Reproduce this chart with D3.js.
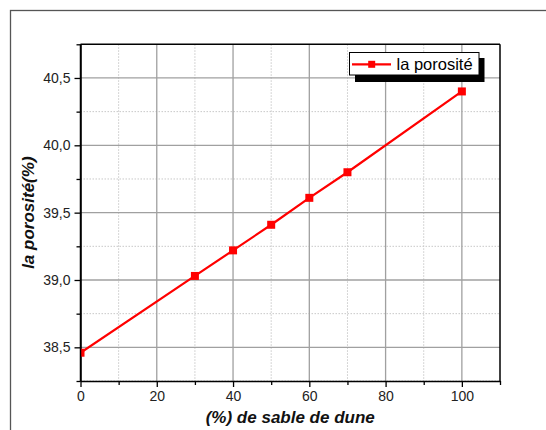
<!DOCTYPE html>
<html>
<head>
<meta charset="utf-8">
<script src="https://cdn.jsdelivr.net/npm/d3@7"></script>
<style>
  html, body { margin: 0; padding: 0; background: #fff; }
  svg { display: block; }
</style>
</head>
<body>
<svg id="chart" width="546" height="430"></svg>
<script>
// Porosity versus dune sand content
const sandPercent = [0, 30, 40, 50, 60, 70, 100];
const porosity = [38.46, 39.03, 39.22, 39.41, 39.61, 39.80, 40.40];
const xMajorTicks = [0, 20, 40, 60, 80, 100];
const xMinorTicks = [10, 30, 50, 70, 90, 110];
const yMajorTicks = [38.5, 39.0, 39.5, 40.0, 40.5];
const yMinorTicks = [38.25, 38.75, 39.25, 39.75, 40.25, 40.75];
const seriesName = "la porosité";
const xTitle = "(%) de sable de dune";
const yTitle = "la porosité(%)";

const svg = d3.select("#chart");
const pLeft = 80.5, pRight = 500, pTop = 44.3, pBottom = 381;
const x = d3.scaleLinear().domain([0, 110]).range([pLeft, pRight]);
const y = d3.scaleLinear().domain([38.25, 40.75]).range([pBottom, pTop]);
const fmt = d3.format(".1f");
const comma = v => fmt(v).replace(".", ",");

// outer page frame
svg.append("rect")
  .attr("x", 10.5).attr("y", 10.5).attr("width", 700).attr("height", 600)
  .attr("fill", "none").attr("stroke", "#555").attr("stroke-width", 1.3);

// minor grid (dotted)
const grid = svg.append("g");
grid.selectAll(".vx").data(xMinorTicks.filter(d => d < 110)).join("line")
  .attr("x1", d => x(d)).attr("x2", d => x(d)).attr("y1", pTop).attr("y2", pBottom)
  .attr("stroke", "#c8c8c8").attr("stroke-width", 1).attr("stroke-dasharray", "1.5,1.5");
grid.selectAll(".hy").data(yMinorTicks.filter(d => d < 40.75)).join("line")
  .attr("y1", d => y(d)).attr("y2", d => y(d)).attr("x1", pLeft).attr("x2", pRight)
  .attr("stroke", "#c8c8c8").attr("stroke-width", 1).attr("stroke-dasharray", "1.5,1.5");
// major grid (solid)
const grid2 = svg.append("g");
grid2.selectAll(".mx").data(xMajorTicks.filter(d => d > 0)).join("line")
  .attr("x1", d => x(d)).attr("x2", d => x(d)).attr("y1", pTop).attr("y2", pBottom)
  .attr("stroke", "#a0a0a0").attr("stroke-width", 1.3);
grid2.selectAll(".my").data(yMajorTicks).join("line")
  .attr("y1", d => y(d)).attr("y2", d => y(d)).attr("x1", pLeft).attr("x2", pRight)
  .attr("stroke", "#a0a0a0").attr("stroke-width", 1.3);

// axes
const xAxis = d3.axisBottom(x).tickValues(xMajorTicks).tickFormat(d3.format("d"))
  .tickSizeInner(6).tickSizeOuter(0).tickPadding(4);
const gx = svg.append("g").attr("transform", `translate(0,${pBottom})`).call(xAxis);
const gxm = svg.append("g").attr("transform", `translate(0,${pBottom})`)
  .call(d3.axisBottom(x).tickValues(xMinorTicks).tickFormat("").tickSizeInner(4).tickSizeOuter(0));
gxm.select(".domain").remove();

const yAxis = d3.axisLeft(y).tickValues(yMajorTicks).tickFormat(comma)
  .tickSizeInner(6).tickSizeOuter(0).tickPadding(4);
const gy = svg.append("g").attr("transform", `translate(${pLeft},0)`).call(yAxis);
const gym = svg.append("g").attr("transform", `translate(${pLeft},0)`)
  .call(d3.axisLeft(y).tickValues(yMinorTicks).tickFormat("").tickSizeInner(4).tickSizeOuter(0));
gym.select(".domain").remove();

[gx, gy, gxm, gym].forEach(g => {
  g.selectAll(".domain").attr("stroke", "#000").attr("stroke-width", 1.5);
  g.selectAll(".tick line").attr("stroke", "#000").attr("stroke-width", 1.3);
  g.selectAll(".tick text").attr("fill", "#222")
    .style("font-family", "Liberation Sans, Arial, sans-serif").style("font-size", "14px");
});

// top and right frame of the plot
svg.append("line").attr("x1", pLeft).attr("x2", pRight).attr("y1", pTop).attr("y2", pTop)
  .attr("stroke", "#000").attr("stroke-width", 1.5);
svg.append("line").attr("x1", pRight).attr("x2", pRight).attr("y1", pTop).attr("y2", pBottom)
  .attr("stroke", "#000").attr("stroke-width", 1.5);

// series
svg.append("defs").append("clipPath").attr("id", "plotClip")
  .append("rect").attr("x", pLeft).attr("y", pTop).attr("width", pRight - pLeft).attr("height", pBottom - pTop);
const data = sandPercent.map((s, i) => ({ s, p: porosity[i] }));
const plot = svg.append("g").attr("clip-path", "url(#plotClip)");
plot.append("path").datum(data)
  .attr("fill", "none").attr("stroke", "#ff0000").attr("stroke-width", 2.2)
  .attr("d", d3.line().x(d => x(d.s)).y(d => y(d.p)));
const ms = 8;
plot.selectAll(".pt").data(data).join("rect")
  .attr("x", d => x(d.s) - ms / 2).attr("y", d => y(d.p) - ms / 2)
  .attr("width", ms).attr("height", ms).attr("fill", "#ff0000");
// left axis line drawn over the clipped first marker
svg.append("line").attr("x1", pLeft).attr("x2", pLeft).attr("y1", pTop).attr("y2", pBottom + 0.5)
  .attr("stroke", "#000").attr("stroke-width", 1.5);

// legend with drop shadow
const lg = svg.append("g");
lg.append("rect").attr("x", 355).attr("y", 58).attr("width", 129.5).attr("height", 24).attr("fill", "#000");
lg.append("rect").attr("x", 349.5).attr("y", 52.5).attr("width", 129.5).attr("height", 22.5)
  .attr("fill", "#fff").attr("stroke", "#000").attr("stroke-width", 1);
lg.append("line").attr("x1", 352).attr("x2", 391).attr("y1", 64.3).attr("y2", 64.3)
  .attr("stroke", "#ff0000").attr("stroke-width", 2.2);
lg.append("rect").attr("x", 371.7 - 3.5).attr("y", 64.3 - 3.5).attr("width", 7).attr("height", 7).attr("fill", "#ff0000");
lg.append("text").attr("x", 396.5).attr("y", 69.5).text(seriesName)
  .style("font-family", "Liberation Sans, Arial, sans-serif").style("font-size", "16.5px").attr("fill", "#000");

// axis titles
svg.append("text").attr("x", (pLeft + pRight) / 2).attr("y", 423).attr("text-anchor", "middle")
  .text(xTitle)
  .style("font-family", "Liberation Sans, Arial, sans-serif").style("font-size", "17px")
  .style("font-weight", "bold").style("font-style", "italic").attr("fill", "#111");
svg.append("text").attr("transform", `translate(34,${(pTop + pBottom) / 2}) rotate(-90)`)
  .attr("text-anchor", "middle").text(yTitle)
  .style("font-family", "Liberation Sans, Arial, sans-serif").style("font-size", "17px")
  .style("font-weight", "bold").style("font-style", "italic").attr("fill", "#111");
</script>
</body>
</html>
